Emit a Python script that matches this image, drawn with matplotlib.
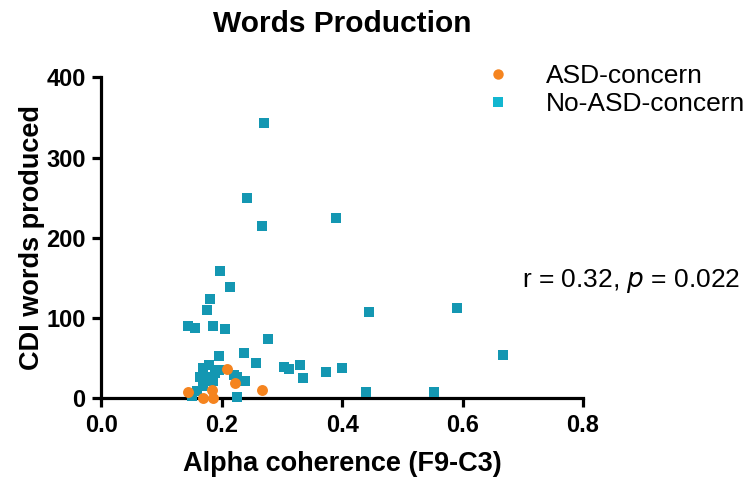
import matplotlib
matplotlib.use("Agg")
import matplotlib.pyplot as plt
from matplotlib.lines import Line2D

plt.rcParams['font.family'] = ['Liberation Sans', 'DejaVu Sans']

# Alpha coherence (F9-C3) vs CDI words produced
asd_x = [0.2085, 0.222, 0.267, 0.143, 0.183, 0.168, 0.185]
asd_y = [36, 19, 10, 7.5, 10, 0, 0]

no_asd_x = [0.270, 0.241, 0.267, 0.389, 0.197, 0.213, 0.181, 0.176, 0.143, 0.156,
            0.186, 0.206, 0.277, 0.445, 0.590, 0.667, 0.196, 0.237, 0.257, 0.304,
            0.311, 0.329, 0.334, 0.373, 0.400, 0.439, 0.552, 0.238, 0.225, 0.150,
            0.168, 0.179, 0.163, 0.176, 0.188, 0.195, 0.220, 0.225, 0.169, 0.158,
            0.185]
no_asd_y = [343, 250, 215, 225, 159, 139, 124, 110, 90, 88,
            90, 86, 74, 108, 112, 54, 53, 57, 44, 39,
            37, 41, 25, 33, 38, 8, 8, 21, 2, 3,
            38, 41, 26, 27, 31, 35, 29, 26, 15, 9,
            22]

x_ticks = [0.0, 0.2, 0.4, 0.6, 0.8]
x_tick_labels = ["0.0", "0.2", "0.4", "0.6", "0.8"]
y_ticks = [0, 100, 200, 300, 400]

teal = "#1497B2"
teal_legend = "#12B6D0"
orange = "#F5841F"

W, H = 749, 480
fig = plt.figure(figsize=(W / 100, H / 100), dpi=100)
ax_left, ax_bottom, ax_w, ax_h = 101.5, 81.7, 481.5, 321
ax = fig.add_axes([ax_left / W, ax_bottom / H, ax_w / W, ax_h / H])

ax.scatter(no_asd_x, no_asd_y, marker='s', s=62, color=teal, linewidths=0,
           clip_on=False, zorder=3)
ax.scatter(asd_x, asd_y, marker='o', s=62, color=orange, linewidths=0,
           clip_on=False, zorder=4)

ax.set_xlim(0, 0.8)
ax.set_ylim(0, 400)
ax.set_xticks(x_ticks)
ax.set_xticklabels(x_tick_labels)
ax.set_yticks(y_ticks)

for side in ('top', 'right'):
    ax.spines[side].set_visible(False)
for side in ('left', 'bottom'):
    ax.spines[side].set_linewidth(2.3)
    ax.spines[side].set_capstyle('projecting')

ax.tick_params(axis='both', direction='out', length=6.5, width=2.3,
               labelsize=17, pad=5)
for lbl in ax.get_xticklabels() + ax.get_yticklabels():
    lbl.set_fontweight('bold')

ax.set_xlabel("Alpha coherence (F9-C3)", fontsize=19.5, fontweight='bold')
ax.set_ylabel("CDI words produced", fontsize=19.5, fontweight='bold')
ax.xaxis.set_label_coords((342 - ax_left) / ax_w, -(464 - 398.3) / ax_h)
ax.yaxis.set_label_coords((32 - ax_left) / ax_w, 0.5)
ax.xaxis.label.set_va('center')
ax.yaxis.label.set_va('center')

fig.text(342 / W, 1 - 24 / H, "Words Production", ha='center', va='center',
         fontsize=21.5, fontweight='bold')

fig.text(522 / W, 1 - 281 / H, r"r = 0.32, $\it{p}$ = 0.022", ha='left',
         va='center', fontsize=19)

handles = [
    Line2D([], [], marker='o', linestyle='none', markersize=7.5,
           markerfacecolor=orange, markeredgewidth=0),
    Line2D([], [], marker='s', linestyle='none', markersize=6.5,
           markerfacecolor=teal_legend, markeredgewidth=0),
]
ax.legend(handles, ["ASD-concern", "No-ASD-concern"], loc='upper left',
          bbox_to_anchor=(487 / W, 1 - 64 / H), bbox_transform=fig.transFigure,
          frameon=False, fontsize=19, handlelength=0.8, handletextpad=1.45,
          labelspacing=0.15, borderpad=0, borderaxespad=0)

fig.savefig("out.png", dpi=100)
